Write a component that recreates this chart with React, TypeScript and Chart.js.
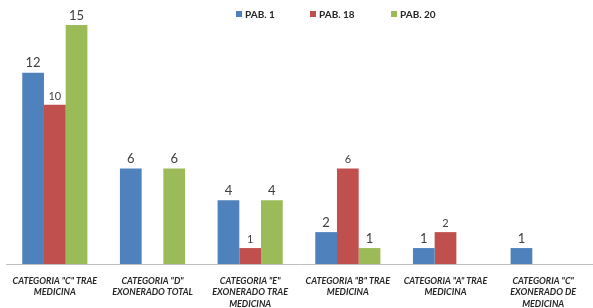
import React, { useEffect, useRef } from "react";
import { Chart, registerables } from "chart.js";

Chart.register(...registerables);

const categories: string[][] = [
  ['CATEGORIA "C" TRAE', "MEDICINA"],
  ['CATEGORIA "D"', "EXONERADO TOTAL"],
  ['CATEGORIA "E"', "EXONERADO TRAE", "MEDICINA"],
  ['CATEGORIA "B" TRAE', "MEDICINA"],
  ['CATEGORIA "A" TRAE', "MEDICINA"],
  ['CATEGORIA "C"', "EXONERADO DE", "MEDICINA"],
];
const seriesNames = ["PAB. 1", "PAB. 18", "PAB. 20"];
const pab1: (number | null)[] = [12, 6, 4, 2, 1, 1];
const pab18: (number | null)[] = [10, null, 1, 6, 2, null];
const pab20: (number | null)[] = [15, 6, 4, 1, null, null];
const colors = ["#4F81BD", "#C0504D", "#9BBB59"];
const labelSizes = [13, 11, 13];

const FONT = "Lato, 'Open Sans', 'Liberation Sans', sans-serif";

const dataLabelPlugin = {
  id: "dataLabels",
  afterDatasetsDraw(chart: any) {
    const ctx = chart.ctx;
    ctx.save();
    chart.data.datasets.forEach((ds: any, i: number) => {
      const meta = chart.getDatasetMeta(i);
      meta.data.forEach((bar: any, j: number) => {
        const v = ds.data[j];
        if (v === null || v === undefined) return;
        ctx.font = `${labelSizes[i]}px ${FONT}`;
        ctx.fillStyle = "#404040";
        ctx.textAlign = "center";
        ctx.textBaseline = "bottom";
        ctx.fillText(String(v), bar.x, bar.y - 3);
      });
    });
    ctx.restore();
  },
};

const legendPlugin = {
  id: "customLegend",
  afterDraw(chart: any) {
    const ctx = chart.ctx;
    ctx.save();
    const xs = [236, 310, 391];
    seriesNames.forEach((name, i) => {
      ctx.fillStyle = colors[i];
      ctx.fillRect(xs[i], 11, 6, 6);
      ctx.font = `bold 10px ${FONT}`;
      ctx.fillStyle = "#262626";
      ctx.textAlign = "left";
      ctx.textBaseline = "middle";
      ctx.fillText(name, xs[i] + 9, 14.5);
    });
    ctx.restore();
  },
};

export default function App() {
  const ref = useRef<HTMLCanvasElement>(null);
  useEffect(() => {
    if (!ref.current) return;
    const chart = new Chart(ref.current, {
      type: "bar",
      data: {
        labels: categories,
        datasets: [pab1, pab18, pab20].map((d, i) => ({
          label: seriesNames[i],
          data: d,
          backgroundColor: colors[i],
          barPercentage: 1,
          categoryPercentage: 0.667,
        })),
      },
      options: {
        animation: false,
        responsive: false,
        maintainAspectRatio: false,
        layout: { padding: { top: 9, left: 6, right: 1, bottom: 0 } },
        plugins: { legend: { display: false }, tooltip: { enabled: false } },
        scales: {
          x: {
            grid: { display: false, drawTicks: false },
            border: { display: true, color: "#BFBFBF", width: 1 },
            afterFit(scale: any) {
              scale.height = 44;
            },
            ticks: {
              autoSkip: false,
              maxRotation: 0,
              minRotation: 0,
              padding: 11,
              color: "#262626",
              font: { family: FONT, size: 9, style: "italic", weight: "bold", lineHeight: 1.28 },
            },
          },
          y: { display: false, min: 0, max: 16 },
        },
      },
      plugins: [dataLabelPlugin, legendPlugin],
    });
    return () => chart.destroy();
  }, []);
  return (
    <div style={{ position: "fixed", left: 0, top: 0, width: 593, height: 308, background: "#fff" }}>
      <canvas ref={ref} width={593} height={308} style={{ display: "block" }} />
    </div>
  );
}
